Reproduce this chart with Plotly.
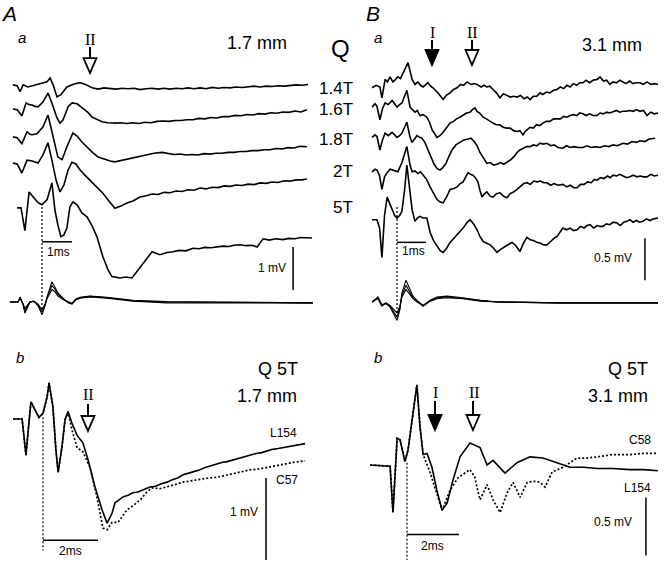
import plotly.graph_objects as go

W, H = 664, 565

# ---------------- data (time in ms, potential in mV) ----------------
# A a : 1.7 mm, responses to Q stimulation at increasing strength
aa_14t = [(-0.97, 0), (-0.83, -0.02), (-0.73, -0.16), (-0.63, 0), (-0.47, -0.05), (-0.30, -0.02),
          (-0.07, 0.02), (0.17, 0.07), (0.27, 0.16), (0.37, 0), (0.50, -0.28), (0.63, -0.23),
          (0.83, -0.05), (1.07, 0.02), (1.27, 0.05), (1.47, 0), (1.67, -0.07), (1.87, -0.10),
          (2.07, -0.07), (2.27, -0.09), (2.47, -0.10), (2.67, -0.08), (2.87, -0.09), (3.07, -0.08),
          (3.27, -0.11), (3.47, -0.09), (3.67, -0.08), (3.87, -0.10), (4.07, -0.08), (4.27, -0.10),
          (4.47, -0.08), (4.67, -0.09), (4.87, -0.07), (5.07, -0.09), (5.27, -0.07), (5.47, -0.09),
          (5.67, -0.06), (5.87, -0.08), (6.07, -0.06), (6.27, -0.07), (6.47, -0.05), (6.67, -0.06),
          (6.87, -0.05), (7.07, -0.03), (7.27, -0.05), (7.47, -0.03), (7.67, -0.04), (7.87, -0.02),
          (8.07, -0.03), (8.27, -0.02), (8.47, 0), (8.67, -0.01), (8.87, 0.01)]
aa_16t = [(-0.97, 0), (-0.83, -0.02), (-0.67, -0.16), (-0.53, 0.14), (-0.43, 0.10), (-0.33, 0.09),
          (-0.23, 0.06), (-0.13, 0.05), (0.03, 0.16), (0.20, 0.37), (0.33, 0.14), (0.50, -0.21),
          (0.60, -0.33), (0.70, -0.26), (0.87, 0.05), (1.00, 0.14), (1.17, 0.12), (1.37, 0.02),
          (1.53, -0.08), (1.67, -0.19), (1.83, -0.25), (2.00, -0.30), (2.20, -0.32), (2.43, -0.33),
          (2.63, -0.32), (2.83, -0.34), (3.03, -0.32), (3.23, -0.34), (3.43, -0.31), (3.63, -0.32),
          (3.83, -0.29), (4.03, -0.28), (4.23, -0.29), (4.43, -0.27), (4.63, -0.27), (4.83, -0.25),
          (5.03, -0.25), (5.23, -0.22), (5.43, -0.23), (5.63, -0.20), (5.83, -0.21), (6.03, -0.18),
          (6.23, -0.18), (6.43, -0.15), (6.63, -0.16), (6.83, -0.13), (7.03, -0.14), (7.23, -0.11),
          (7.43, -0.12), (7.63, -0.09), (7.83, -0.10), (8.03, -0.07), (8.23, -0.08), (8.43, -0.05),
          (8.63, -0.07), (8.83, -0.02)]
aa_18t = [(-0.97, 0), (-0.83, -0.02), (-0.67, -0.16), (-0.50, 0.12), (-0.40, 0.06), (-0.33, 0.05),
          (-0.17, 0.07), (0.03, 0.23), (0.20, 0.51), (0.37, 0), (0.53, -0.47), (0.67, -0.53),
          (0.83, -0.23), (1.03, 0.09), (1.17, 0.02), (1.33, -0.12), (1.53, -0.26), (1.70, -0.37),
          (1.87, -0.47), (2.10, -0.53), (2.27, -0.56), (2.43, -0.58), (2.63, -0.55), (2.83, -0.53),
          (3.00, -0.49), (3.20, -0.47), (3.37, -0.44), (3.53, -0.42), (3.73, -0.38), (4.00, -0.36),
          (4.20, -0.39), (4.40, -0.41), (4.60, -0.40), (4.80, -0.42), (5.00, -0.41), (5.20, -0.42),
          (5.40, -0.39), (5.60, -0.40), (5.80, -0.38), (6.00, -0.38), (6.20, -0.36), (6.40, -0.36),
          (6.60, -0.34), (6.80, -0.34), (7.00, -0.32), (7.20, -0.32), (7.40, -0.30), (7.60, -0.30),
          (7.80, -0.27), (8.00, -0.28), (8.20, -0.25), (8.40, -0.26), (8.60, -0.22), (8.83, -0.23)]
aa_2t = [(-0.97, 0), (-0.83, -0.02), (-0.67, -0.23), (-0.50, 0.07), (-0.33, 0.05), (-0.13, 0),
         (0.03, 0.19), (0.20, 0.47), (0.33, 0.07), (0.47, -0.40), (0.60, -0.67), (0.73, -0.51),
         (0.87, -0.16), (1.00, 0.02), (1.13, -0.02), (1.27, -0.16), (1.43, -0.28), (1.60, -0.40),
         (1.80, -0.53), (2.03, -0.70), (2.23, -0.88), (2.43, -1.05), (2.63, -1.00), (2.83, -0.93),
         (3.03, -0.88), (3.27, -0.79), (3.47, -0.76), (3.67, -0.72), (3.87, -0.73), (4.07, -0.68),
         (4.27, -0.69), (4.47, -0.65), (4.67, -0.66), (4.87, -0.62), (5.07, -0.63), (5.27, -0.58),
         (5.47, -0.60), (5.67, -0.56), (5.87, -0.57), (6.07, -0.53), (6.27, -0.54), (6.47, -0.51),
         (6.67, -0.52), (6.87, -0.49), (7.07, -0.50), (7.27, -0.46), (7.47, -0.47), (7.67, -0.44),
         (7.87, -0.45), (8.07, -0.41), (8.27, -0.42), (8.47, -0.39), (8.67, -0.39), (8.83, -0.37)]
aa_5t = [(-0.83, 0), (-0.70, 0), (-0.57, -0.53), (-0.43, 0.37), (-0.30, 0.26), (-0.13, 0.12),
         (0, 0.07), (0.17, 0.19), (0.33, 0.58), (0.43, -0.05), (0.53, -0.40), (0.63, -0.67),
         (0.73, -0.63), (0.83, -0.47), (0.93, 0.02), (1.03, 0.14), (1.17, 0.07), (1.33, -0.12),
         (1.50, -0.21), (1.67, -0.42), (1.83, -0.67), (2.03, -1.14), (2.20, -1.44), (2.33, -1.60),
         (2.60, -1.63), (2.80, -1.61), (3.00, -1.63), (3.37, -1.28), (3.67, -1.02), (3.93, -1.09),
         (4.17, -1.04), (4.37, -1.02), (4.57, -0.99), (4.80, -1.00), (5.03, -0.94), (5.23, -0.95),
         (5.43, -0.92), (5.63, -0.93), (5.83, -0.91), (6.03, -0.89), (6.23, -0.90), (6.40, -0.87),
         (6.60, -0.86), (6.80, -0.88), (7.00, -0.87), (7.17, -0.91), (7.37, -0.72), (7.57, -0.75),
         (7.80, -0.72), (8.03, -0.74), (8.23, -0.71), (8.43, -0.72), (8.63, -0.69), (8.83, -0.70),
         (9.00, -0.70)]
# superimposed lower traces in A a
aa_low_t = [-1.07, -0.80, -0.73, -0.63, -0.57, -0.47, -0.40, -0.27, -0.13, 0, 0.10, 0.17, 0.27, 0.33,
            0.43, 0.53, 0.70, 0.87, 1.00, 1.13, 1.27, 1.60, 2.17, 3.03, 4.17, 5.93, 7.50, 9.03]
aa_low_1 = [0, 0, 0.12, -0.07, -0.26, -0.09, 0, 0.02, -0.09, -0.30, -0.09, 0.12, 0.35, 0.47,
            0.35, 0.21, 0.09, -0.02, -0.05, 0.05, 0.09, 0.12, 0.09, 0.02, -0.02, -0.02, -0.01, -0.02]
aa_low_2 = [0, 0, 0.10, -0.05, -0.20, -0.07, 0, 0.02, -0.07, -0.24, -0.07, 0.10, 0.28, 0.38,
            0.30, 0.18, 0.08, -0.01, -0.04, 0.06, 0.10, 0.13, 0.10, 0.03, 0, -0.01, -0.01, -0.02]
aa_low_3 = [0, 0, 0.08, -0.04, -0.15, -0.05, 0, 0.01, -0.05, -0.18, -0.05, 0.08, 0.21, 0.29,
            0.24, 0.14, 0.06, 0, -0.03, 0.07, 0.11, 0.14, 0.11, 0.04, 0.01, 0, -0.01, -0.02]
aa_labels = ["1.4T", "1.6T", "1.8T", "2T", "5T"]
aa_offsets = [5.05, 4.49, 3.84, 3.23, 2.19]   # vertical stacking, mV

# A b : Q 5T at 1.7 mm, L154 (solid) vs C57 (dotted)
ab_onset = [(-1.09, 0), (-0.76, 0), (-0.62, -0.44), (-0.44, 0.21), (-0.29, 0.11), (-0.15, 0.02),
            (0, 0.07), (0.15, 0.27), (0.22, 0.44), (0.36, 0.15), (0.47, -0.38), (0.55, -0.65),
            (0.69, -0.34), (0.80, -0.01), (0.91, 0.09)]
ab_l154 = [(1.05, -0.05), (1.24, -0.20), (1.45, -0.29), (1.64, -0.50), (1.89, -0.83), (2.15, -1.11),
           (2.33, -1.27), (2.51, -1.15), (2.62, -1.02), (2.75, -0.99), (2.91, -0.95), (3.09, -0.93),
           (3.27, -0.90), (3.45, -0.89), (3.65, -0.86), (3.89, -0.83), (4.10, -0.82), (4.30, -0.79),
           (4.51, -0.77), (4.70, -0.74), (4.90, -0.72), (5.09, -0.68), (5.30, -0.66), (5.50, -0.64),
           (5.71, -0.62), (5.90, -0.59), (6.10, -0.57), (6.33, -0.55), (6.50, -0.53), (6.70, -0.52),
           (6.91, -0.50), (7.10, -0.48), (7.30, -0.46), (7.53, -0.44), (7.75, -0.42), (7.95, -0.41),
           (8.15, -0.39), (8.35, -0.37), (8.55, -0.36), (8.73, -0.35), (8.95, -0.33), (9.20, -0.32),
           (9.53, -0.30)]
ab_c57 = [(1.05, -0.13), (1.24, -0.35), (1.45, -0.40), (1.71, -0.59), (1.96, -0.95), (2.18, -1.33),
          (2.33, -1.35), (2.51, -1.26), (2.73, -1.26), (2.90, -1.18), (3.05, -1.11), (3.30, -1.05),
          (3.53, -0.99), (3.75, -0.90), (3.96, -0.84), (4.25, -0.85), (4.51, -0.83), (4.80, -0.80),
          (5.09, -0.77), (5.40, -0.75), (5.71, -0.73), (6.00, -0.72), (6.33, -0.71), (6.60, -0.69),
          (6.91, -0.67), (7.20, -0.65), (7.53, -0.62), (7.85, -0.61), (8.15, -0.59), (8.45, -0.57),
          (8.73, -0.55), (9.10, -0.53), (9.53, -0.51)]

# B a : 3.1 mm
ba_14t = [(-0.86, 0), (-0.72, 0.03), (-0.59, 0.01), (-0.52, -0.12), (-0.41, 0.10), (-0.33, 0.07),
          (-0.24, 0.13), (-0.14, 0.07), (-0.05, 0.10), (0.03, 0.13), (0.12, 0.11), (0.21, 0.18),
          (0.38, 0.30), (0.52, 0.10), (0.62, 0.04), (0.72, 0.07), (0.81, 0.03), (0.90, 0.01),
          (1.07, 0.06), (1.16, 0.02), (1.24, 0), (1.41, -0.06), (1.59, -0.14), (1.70, -0.09),
          (1.83, -0.06), (1.95, -0.02), (2.07, 0), (2.20, 0.04), (2.30, 0.03), (2.41, 0.07),
          (2.55, 0.04), (2.66, 0.05), (2.76, 0.04), (2.90, 0.01), (3.00, 0.03), (3.10, 0.01),
          (3.20, 0.02), (3.31, -0.02), (3.43, -0.06), (3.55, -0.12), (3.67, -0.07), (3.79, -0.09),
          (3.90, -0.11), (4.02, -0.10), (4.14, -0.11), (4.26, -0.09), (4.38, -0.13), (4.50, -0.11),
          (4.59, -0.14), (4.70, -0.10), (4.82, -0.10), (4.93, -0.06), (5.03, -0.08), (5.15, -0.05),
          (5.27, -0.06), (5.40, -0.03), (5.52, -0.02), (5.63, 0.01), (5.75, -0.01), (5.86, 0.03),
          (5.97, 0.01), (6.08, 0.05), (6.20, 0.03), (6.30, 0.06), (6.41, 0.06), (6.52, 0.09),
          (6.64, 0.06), (6.76, 0.09), (6.90, 0.10), (7.00, 0.13), (7.12, 0.08), (7.23, 0.09),
          (7.34, 0.04), (7.45, 0.07), (7.57, 0.06), (7.68, 0.09), (7.79, 0.07), (7.90, 0.05),
          (8.02, 0.08), (8.14, 0.05), (8.26, 0.06), (8.38, 0.06), (8.50, 0.04), (8.62, 0.07),
          (8.75, 0.04), (8.87, 0.05), (9.00, 0.04)]
ba_16t = [(-0.86, 0), (-0.76, 0.04), (-0.69, 0.01), (-0.59, -0.15), (-0.50, -0.02), (-0.41, 0.05),
          (-0.30, 0.03), (-0.17, 0.08), (-0.08, 0.04), (0, 0), (0.09, 0.03), (0.17, 0.05),
          (0.34, 0.20), (0.45, 0), (0.53, -0.03), (0.62, -0.06), (0.70, -0.04), (0.79, -0.10),
          (0.90, -0.09), (1.03, -0.12), (1.12, -0.18), (1.21, -0.27), (1.38, -0.36), (1.48, -0.34),
          (1.59, -0.30), (1.70, -0.25), (1.83, -0.19), (1.95, -0.17), (2.05, -0.14), (2.17, -0.12),
          (2.28, -0.10), (2.40, -0.07), (2.52, -0.06), (2.60, -0.03), (2.69, -0.01), (2.76, -0.05),
          (2.85, -0.07), (2.97, -0.12), (3.08, -0.14), (3.20, -0.17), (3.31, -0.19), (3.42, -0.21),
          (3.55, -0.21), (3.66, -0.24), (3.78, -0.25), (3.90, -0.25), (4.02, -0.28), (4.14, -0.29),
          (4.24, -0.28), (4.34, -0.33), (4.45, -0.28), (4.59, -0.24), (4.70, -0.25), (4.81, -0.21),
          (4.92, -0.22), (5.03, -0.19), (5.15, -0.17), (5.27, -0.17), (5.40, -0.14), (5.52, -0.14),
          (5.63, -0.14), (5.75, -0.11), (5.86, -0.12), (5.97, -0.10), (6.08, -0.09), (6.20, -0.10),
          (6.30, -0.07), (6.41, -0.08), (6.52, -0.10), (6.64, -0.08), (6.76, -0.10), (6.90, -0.10),
          (7.00, -0.07), (7.12, -0.08), (7.23, -0.06), (7.34, -0.07), (7.45, -0.06), (7.57, -0.04),
          (7.68, -0.06), (7.79, -0.05), (7.90, -0.05), (8.03, -0.04), (8.14, -0.05), (8.26, -0.03),
          (8.38, -0.05), (8.50, -0.04), (8.62, -0.10), (8.75, -0.06), (8.87, -0.08), (9.00, -0.07)]
ba_18t = [(-0.86, 0), (-0.76, 0.03), (-0.69, 0.01), (-0.59, -0.15), (-0.50, -0.03), (-0.41, 0.05),
          (-0.30, 0.02), (-0.17, 0.06), (-0.08, 0.03), (0, 0), (0.09, 0.02), (0.17, 0.05),
          (0.34, 0.18), (0.45, 0), (0.52, -0.06), (0.60, -0.02), (0.69, 0.02), (0.78, 0),
          (0.86, -0.01), (0.96, -0.06), (1.07, -0.15), (1.18, -0.24), (1.28, -0.32), (1.38, -0.37),
          (1.48, -0.39), (1.58, -0.36), (1.69, -0.31), (1.80, -0.22), (1.90, -0.15), (2.03, -0.09),
          (2.17, -0.06), (2.31, -0.03), (2.45, -0.02), (2.55, -0.01), (2.66, -0.05), (2.76, -0.10),
          (2.86, -0.18), (2.98, -0.25), (3.10, -0.31), (3.22, -0.30), (3.34, -0.33), (3.45, -0.32),
          (3.57, -0.30), (3.68, -0.32), (3.79, -0.30), (3.91, -0.27), (4.03, -0.23), (4.14, -0.18),
          (4.24, -0.15), (4.35, -0.13), (4.47, -0.11), (4.59, -0.11), (4.70, -0.09), (4.82, -0.10),
          (4.93, -0.07), (5.05, -0.08), (5.17, -0.07), (5.30, -0.10), (5.42, -0.09), (5.55, -0.12),
          (5.72, -0.13), (5.85, -0.10), (5.97, -0.12), (6.10, -0.11), (6.25, -0.12), (6.41, -0.12),
          (6.55, -0.10), (6.70, -0.12), (6.85, -0.11), (7.00, -0.12), (7.15, -0.10), (7.30, -0.11),
          (7.45, -0.09), (7.60, -0.10), (7.79, -0.07), (7.95, -0.08), (8.10, -0.05), (8.25, -0.06),
          (8.38, -0.04), (8.55, -0.05), (8.70, -0.02), (8.90, -0.01)]
ba_2t = [(-0.86, 0), (-0.76, 0.03), (-0.69, 0.02), (-0.60, -0.05), (-0.52, -0.21), (-0.43, -0.06),
         (-0.34, -0.01), (-0.24, 0.03), (-0.14, 0.02), (-0.05, 0.01), (0.03, 0), (0.17, 0.11),
         (0.34, 0.30), (0.45, 0.08), (0.52, 0), (0.62, 0.01), (0.72, -0.02), (0.81, 0),
         (0.90, -0.04), (1.02, -0.09), (1.14, -0.18), (1.26, -0.26), (1.38, -0.33), (1.49, -0.36),
         (1.59, -0.37), (1.71, -0.30), (1.83, -0.21), (1.95, -0.20), (2.07, -0.18), (2.18, -0.14),
         (2.28, -0.12), (2.37, -0.06), (2.45, -0.01), (2.53, -0.03), (2.62, -0.04), (2.70, -0.07),
         (2.79, -0.12), (2.86, -0.22), (2.93, -0.30), (3.02, -0.26), (3.10, -0.24), (3.21, -0.29),
         (3.31, -0.30), (3.43, -0.26), (3.55, -0.25), (3.67, -0.29), (3.79, -0.31), (3.90, -0.26),
         (4.02, -0.24), (4.14, -0.21), (4.26, -0.17), (4.37, -0.14), (4.48, -0.13), (4.60, -0.15),
         (4.72, -0.11), (4.83, -0.12), (4.95, -0.11), (5.06, -0.13), (5.17, -0.13), (5.30, -0.16),
         (5.42, -0.14), (5.55, -0.16), (5.72, -0.15), (5.85, -0.18), (5.97, -0.16), (6.10, -0.19),
         (6.21, -0.19), (6.33, -0.15), (6.45, -0.15), (6.57, -0.12), (6.70, -0.13), (6.80, -0.09),
         (6.90, -0.10), (7.02, -0.07), (7.14, -0.08), (7.26, -0.05), (7.35, -0.07), (7.45, -0.04),
         (7.57, -0.05), (7.68, -0.03), (7.80, -0.05), (7.92, -0.07), (8.03, -0.06), (8.15, -0.04),
         (8.27, -0.06), (8.39, -0.05), (8.50, -0.06), (8.62, -0.06), (8.75, -0.03), (8.87, -0.05),
         (9.00, -0.04)]
ba_5t = [(-0.86, 0), (-0.69, 0), (-0.60, -0.10), (-0.52, -0.45), (-0.43, 0.05), (-0.34, 0.27),
         (-0.26, 0.20), (-0.17, 0.12), (-0.08, 0.05), (0, 0.02), (0.09, 0.05), (0.17, 0.10),
         (0.26, 0.35), (0.34, 0.65), (0.43, 0.40), (0.52, 0.12), (0.62, -0.02), (0.70, 0.02),
         (0.79, 0.04), (0.90, 0.02), (1.03, 0.02), (1.14, -0.15), (1.26, -0.25), (1.38, -0.32),
         (1.49, -0.37), (1.59, -0.39), (1.71, -0.34), (1.83, -0.27), (1.95, -0.22), (2.07, -0.18),
         (2.17, -0.14), (2.28, -0.10), (2.40, -0.04), (2.52, 0), (2.64, -0.05), (2.76, -0.12),
         (2.86, -0.20), (2.97, -0.26), (3.09, -0.28), (3.21, -0.30), (3.33, -0.34), (3.45, -0.39),
         (3.55, -0.36), (3.66, -0.33), (3.77, -0.31), (3.87, -0.29), (3.97, -0.27), (4.10, -0.31),
         (4.24, -0.38), (4.36, -0.28), (4.48, -0.21), (4.60, -0.24), (4.72, -0.25), (4.83, -0.27),
         (4.95, -0.28), (5.06, -0.30), (5.17, -0.30), (5.30, -0.26), (5.42, -0.22), (5.52, -0.20),
         (5.62, -0.15), (5.72, -0.10), (5.85, -0.12), (5.97, -0.10), (6.09, -0.13), (6.21, -0.12),
         (6.33, -0.08), (6.45, -0.10), (6.55, -0.07), (6.66, -0.06), (6.78, -0.10), (6.90, -0.07),
         (7.00, -0.08), (7.10, -0.08), (7.22, -0.05), (7.34, -0.06), (7.45, -0.03), (7.59, -0.04),
         (7.70, -0.07), (7.82, -0.03), (7.93, -0.02), (8.03, 0), (8.14, -0.03), (8.25, -0.01),
         (8.37, -0.03), (8.48, -0.02), (8.60, 0.01), (8.72, -0.01), (8.85, 0.01), (9.00, 0.02)]
ba_low_t = [-0.86, -0.66, -0.52, -0.38, -0.24, -0.14, 0, 0.10, 0.17, 0.31, 0.45, 0.55, 0.69, 0.90,
            1.14, 1.38, 1.72, 2.28, 2.86, 3.45, 5.62, 9.00]
ba_low_1 = [0, 0.06, -0.04, -0.01, -0.05, -0.10, -0.18, -0.07, 0.11, 0.26, 0.14, 0.07, 0.02, -0.04,
            0.02, 0.06, 0.07, 0.05, 0.02, 0, -0.01, -0.01]
ba_low_2 = [0, 0.05, -0.03, -0.02, -0.06, -0.13, -0.22, -0.09, 0.08, 0.20, 0.11, 0.05, 0.01, -0.05,
            0.01, 0.05, 0.06, 0.04, 0.02, 0, -0.01, -0.01]
ba_low_3 = [0, 0.04, -0.05, -0.01, -0.04, -0.08, -0.13, -0.05, 0.06, 0.15, 0.09, 0.04, 0, -0.04,
            0.01, 0.04, 0.05, 0.04, 0.01, 0, -0.01, -0.01]
ba_offsets = [2.55, 2.32, 1.96, 1.55, 0.98]

# B b : Q 5T at 3.1 mm, L154 (solid) vs C58 (dotted)
bb_onset = [(-1.42, 0), (-0.65, -0.01), (-0.54, -0.41), (-0.38, 0.23), (-0.27, 0.22), (-0.08, 0.03),
            (0.04, 0.13), (0.19, 0.39), (0.38, 0.69), (0.50, 0.33), (0.62, 0.09)]
bb_l154 = [(0.77, 0.10), (0.96, -0.02), (1.15, -0.22), (1.35, -0.39), (1.54, -0.33), (1.77, -0.13),
           (2.04, 0.07), (2.42, 0.19), (2.81, 0.15), (3.08, 0), (3.31, 0.04), (3.77, -0.07),
           (4.23, 0.02), (4.73, 0.07), (5.23, 0.06), (5.77, 0.02), (6.27, -0.02), (6.80, -0.02),
           (7.31, -0.03), (7.90, -0.03), (8.58, -0.04), (9.10, -0.04), (9.65, -0.05)]
bb_c58 = [(0.88, -0.06), (1.15, -0.24), (1.35, -0.39), (1.65, -0.22), (1.96, -0.11), (2.42, -0.04),
          (2.60, -0.10), (2.69, -0.19), (2.81, -0.30), (3.08, -0.17), (3.31, -0.30), (3.58, -0.41),
          (3.85, -0.24), (4.08, -0.15), (4.35, -0.28), (4.62, -0.15), (4.90, -0.14), (5.12, -0.15),
          (5.31, -0.19), (5.58, -0.06), (6.00, -0.02), (6.54, 0.06), (6.90, 0.06), (7.31, 0.07),
          (7.92, 0.09), (8.58, 0.09), (9.10, 0.10), (9.65, 0.10)]

# ---------------- geometry: pixel of t=0, px per ms, pixel of 0 mV, px per mV ----------------
panels = {
    "Aa": ("x", "y", 42, 30.0, 302, 43.0),
    "Ab": ("x2", "y2", 43, 27.5, 419, 82.0),
    "Ba": ("x3", "y3", 397, 29.0, 302, 84.0),
    "Bb": ("x4", "y4", 407, 26.0, 465, 116.0),
}

INK = "black"
FONT = "Liberation Sans"
SERIF = "Liberation Serif"
FINE_DOT = "2px,2px"

fig = go.Figure()


def add_line(panel, ts, vs, offset=0.0, width=1.6, dash="solid"):
    xa, ya = panels[panel][0], panels[panel][1]
    fig.add_trace(go.Scatter(x=ts, y=[v + offset for v in vs], mode="lines", xaxis=xa, yaxis=ya,
                             line=dict(color=INK, width=width, dash=dash), hoverinfo="skip",
                             showlegend=False))


def add_pairs(panel, pts, offset=0.0, width=1.6, dash="solid"):
    add_line(panel, [p[0] for p in pts], [p[1] for p in pts], offset, width, dash)


# A a
for tr, off in zip([aa_14t, aa_16t, aa_18t, aa_2t, aa_5t], aa_offsets):
    add_pairs("Aa", tr, off)
for low in [aa_low_1, aa_low_2, aa_low_3]:
    add_line("Aa", aa_low_t, low, width=1.1)

# A b
add_pairs("Ab", ab_onset + ab_c57, dash=FINE_DOT, width=1.7)
add_pairs("Ab", ab_onset + ab_l154)

# B a
for tr, off in zip([ba_14t, ba_16t, ba_18t, ba_2t, ba_5t], ba_offsets):
    add_pairs("Ba", tr, off)
for low in [ba_low_1, ba_low_2, ba_low_3]:
    add_line("Ba", ba_low_t, low, width=1.1)

# B b
add_pairs("Bb", bb_onset + bb_c58, dash=FINE_DOT, width=1.7)
add_pairs("Bb", bb_onset + bb_l154)

# axes: every panel spans the whole page, ranges give its own ms / mV scale
layout_axes = {}
for i, (name, (xa, ya, x0, pxms, y0, pxmv)) in enumerate(panels.items()):
    xkey = "xaxis" if xa == "x" else "xaxis" + xa[1:]
    ykey = "yaxis" if ya == "y" else "yaxis" + ya[1:]
    xd = dict(range=[-x0 / pxms, (W - x0) / pxms], domain=[0, 1], visible=False, fixedrange=True)
    yd = dict(range=[-(H - y0) / pxmv, y0 / pxmv], domain=[0, 1], visible=False, fixedrange=True)
    if i > 0:
        xd.update(overlaying="x", anchor=ya)
        yd.update(overlaying="y", anchor=xa)
    layout_axes[xkey] = xd
    layout_axes[ykey] = yd

shapes = []


def seg(panel, xa0, ya0, xa1, ya1, width=1.5, dash="solid"):
    xa, ya = panels[panel][0], panels[panel][1]
    shapes.append(dict(type="line", xref=xa, yref=ya, x0=xa0, y0=ya0, x1=xa1, y1=ya1,
                       line=dict(color=INK, width=width, dash=dash)))


# stimulus markers (dotted) and scale bars
seg("Aa", 0, 2.21, 0, -0.22, width=1.2, dash=FINE_DOT)
seg("Aa", 0, 1.40, 1, 1.40)
seg("Aa", 8.37, 0.28, 8.37, 1.28)
seg("Ab", 0, 0.02, 0, -1.60, width=1.2, dash=FINE_DOT)
seg("Ab", 0, -1.48, 2, -1.48)
seg("Ab", 8.11, -0.72, 8.11, -1.72)
seg("Ba", 0, 1.13, 0, -0.18, width=1.2, dash=FINE_DOT)
seg("Ba", 0, 0.71, 1, 0.71)
seg("Ba", 8.55, 0.26, 8.55, 0.76)
seg("Bb", 0, 0.02, 0, -0.82, width=1.2, dash=FINE_DOT)
seg("Bb", 0, -0.60, 2, -0.60)
seg("Bb", 9.19, -0.28, 9.19, -0.78)


def px(x):
    return x / W


def py(y):
    return 1 - y / H


def arrow(x, ytop, ybot, filled):
    head = ybot - 15
    shapes.append(dict(type="line", xref="paper", yref="paper", x0=px(x), x1=px(x),
                       y0=py(ytop), y1=py(head), line=dict(color=INK, width=2)))
    path = "M {:.4f},{:.4f} L {:.4f},{:.4f} L {:.4f},{:.4f} Z".format(
        px(x - 6.5), py(head), px(x + 6.5), py(head), px(x), py(ybot))
    shapes.append(dict(type="path", xref="paper", yref="paper", path=path,
                       fillcolor=INK if filled else "white", line=dict(color=INK, width=1.8)))


arrow(90, 47, 73, False)
arrow(432, 40, 65, True)
arrow(472, 40, 65, False)
arrow(88, 404, 431, False)
arrow(435, 401, 430, True)
arrow(473, 401, 430, False)

annotations = []


def label(text, x, y, size, family=FONT, italic=False, anchor="center"):
    if italic:
        text = "<i>" + text + "</i>"
    annotations.append(dict(text=text, x=px(x), y=py(y), xref="paper", yref="paper",
                            xanchor=anchor, yanchor="middle", showarrow=False,
                            font=dict(family=family, size=size, color=INK)))


label("A", 9, 14, 21, italic=True)
label("B", 373, 13, 21, italic=True)
label("a", 22, 38, 15, italic=True)
label("a", 378, 37, 15, italic=True)
label("b", 20, 357, 15, italic=True)
label("b", 378, 357, 15, italic=True)
label("II", 90, 39, 16, family=SERIF)
label("I", 432, 32, 16, family=SERIF)
label("II", 472, 32, 16, family=SERIF)
label("II", 88, 394, 16, family=SERIF)
label("I", 435, 393, 16, family=SERIF)
label("II", 474, 393, 16, family=SERIF)
label("1.7 mm", 257, 43, 18)
label("3.1 mm", 612, 45, 18)
label("Q", 341, 49, 24)
for txt, y in zip(aa_labels, [88, 109, 139, 172, 207]):
    label(txt, 355, y, 17, anchor="right")
label("1ms", 58, 252, 12)
label("1ms", 413, 251, 12)
label("1 mV", 272, 268, 12)
label("0.5 mV", 613, 258, 12)
label("Q 5T", 278, 369, 18)
label("1.7 mm", 267, 396, 18)
label("Q 5T", 628, 369, 18)
label("3.1 mm", 618, 396, 18)
label("L154", 283, 433, 12)
label("C57", 287, 480, 12)
label("1 mV", 244, 512, 12)
label("2ms", 70, 551, 12)
label("C58", 640, 440, 12)
label("L154", 637, 488, 12)
label("0.5 mV", 613, 522, 12)
label("2ms", 432, 546, 12)

fig.update_layout(width=W, height=H, margin=dict(l=0, r=0, t=0, b=0), paper_bgcolor="white",
                  plot_bgcolor="white", showlegend=False, shapes=shapes, annotations=annotations,
                  **layout_axes)

fig.write_html("out.html", config={"displayModeBar": False, "staticPlot": True},
               post_script="document.body.style.margin='0';")
